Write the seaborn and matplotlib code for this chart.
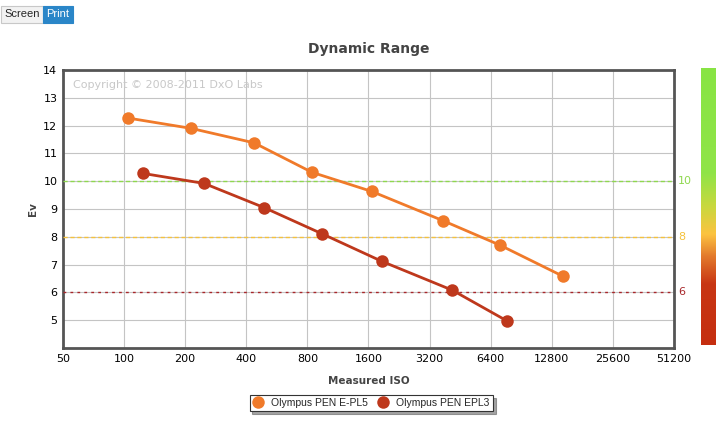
import numpy as np
import pandas as pd
import matplotlib
matplotlib.use("Agg")
import matplotlib.pyplot as plt
from matplotlib.colors import LinearSegmentedColormap
from matplotlib.ticker import FixedLocator, NullLocator
import seaborn as sns

# data
cameras = ["Olympus PEN E-PL5", "Olympus PEN EPL3"]
iso_epl5 = [105, 214, 437, 843, 1664, 3727, 7110, 14540]
ev_epl5 = [12.27, 11.9, 11.38, 10.32, 9.63, 8.58, 7.7, 6.58]
iso_epl3 = [124, 248, 490, 944, 1859, 4140, 7720]
ev_epl3 = [10.28, 9.92, 9.05, 8.11, 7.12, 6.08, 4.97]
colors = ["#F07A2A", "#BE381C"]
iso_ticks = [50, 100, 200, 400, 800, 1600, 3200, 6400, 12800, 25600, 51200]
ev_ticks = list(range(5, 15))
levels = [10, 8, 6]
level_colors = ["#8FD84E", "#F5C23C", "#A8262A"]

df = pd.DataFrame({
    "iso": iso_epl5 + iso_epl3,
    "ev": ev_epl5 + ev_epl3,
    "camera": [cameras[0]] * len(iso_epl5) + [cameras[1]] * len(iso_epl3),
})

sns.set_style("white")
plt.rcParams["font.family"] = ["DejaVu Sans"]

fig = plt.figure(figsize=(7.23, 4.30), dpi=100)
ax = fig.add_axes([0.0871, 0.1907, 0.8451, 0.6465])

sns.lineplot(data=df, x="iso", y="ev", hue="camera", palette=colors,
             marker="o", markersize=9, markeredgewidth=0, linewidth=2,
             legend=False, ax=ax, zorder=5)

ax.set_xscale("log", base=2)
ax.set_xlim(50, 51200)
ax.set_ylim(4, 14)
ax.xaxis.set_major_locator(FixedLocator(iso_ticks))
ax.xaxis.set_minor_locator(NullLocator())
ax.set_xticklabels([str(t) for t in iso_ticks])
ax.set_yticks(ev_ticks)
ax.tick_params(axis="both", labelsize=8, length=0, pad=4, colors="#000000")
ax.grid(True, color="#c4c4c4", linewidth=0.8)
for s in ax.spines.values():
    s.set_color("#555555")
    s.set_linewidth(2)

# reference levels
for lv, c in zip(levels, level_colors):
    ls = (0, (2, 3)) if lv == 6 else (0, (3, 2))
    ax.axhline(lv, color=c, linewidth=1, linestyle=ls, zorder=3)
    ax.text(1.0065, lv, str(lv), transform=ax.get_yaxis_transform(),
            color=c, fontsize=8, va="center", ha="left")

ax.text(0.017, 0.965, "Copyright \u00a9 2008-2011 DxO Labs", transform=ax.transAxes,
        color="#c8c8c8", fontsize=8, va="top", ha="left")

ax.set_xlabel("Measured ISO", fontsize=7.5, fontweight="bold", color="#444444", labelpad=9)
ax.set_ylabel("Ev", fontsize=7.5, fontweight="bold", color="#444444", labelpad=4)
ax.set_title("Dynamic Range", fontsize=10, fontweight="bold", color="#444444", pad=12)

# legend
handles = [plt.Line2D([], [], marker="o", linestyle="", markersize=9,
                      markerfacecolor=c, markeredgewidth=0) for c in colors]
leg = fig.legend(handles, cameras, loc="center", bbox_to_anchor=(0.5135, 0.063),
                 ncol=2, frameon=True, fancybox=False, shadow=True,
                 prop={"family": "Liberation Sans", "size": 7.5},
                 handletextpad=0.8, columnspacing=0.9, borderpad=0.3,
                 handlelength=1.0, borderaxespad=0)
leg.get_frame().set_edgecolor("#333333")
leg.get_frame().set_linewidth(0.8)

# colour scale bar on the right
cax = fig.add_axes([0.9696, 0.198, 0.0207, 0.644])
cmap = LinearSegmentedColormap.from_list("dxo", [
    (0.0, "#C52E10"), (0.22, "#C83614"), (0.32, "#E37A2C"),
    (0.40, "#FCC340"), (0.50, "#C9D83E"), (0.62, "#90E448"), (1.0, "#88E444")])
grad = np.linspace(1, 0, 256).reshape(-1, 1)
cax.imshow(grad, aspect="auto", cmap=cmap, vmin=0, vmax=1)
cax.set_axis_off()

# Screen / Print buttons
fig.text(0.006, 0.967, "Screen", fontsize=8, family="Liberation Sans", va="center",
         bbox=dict(boxstyle="square,pad=0.3", fc="#f2f2f2", ec="#c8c8c8", lw=0.8))
fig.text(0.064, 0.967, "Print", fontsize=8, family="Liberation Sans", va="center",
         color="white",
         bbox=dict(boxstyle="square,pad=0.3", fc="#2a86c8", ec="#2a86c8", lw=0.8))

fig.savefig("out.png", dpi=100)
